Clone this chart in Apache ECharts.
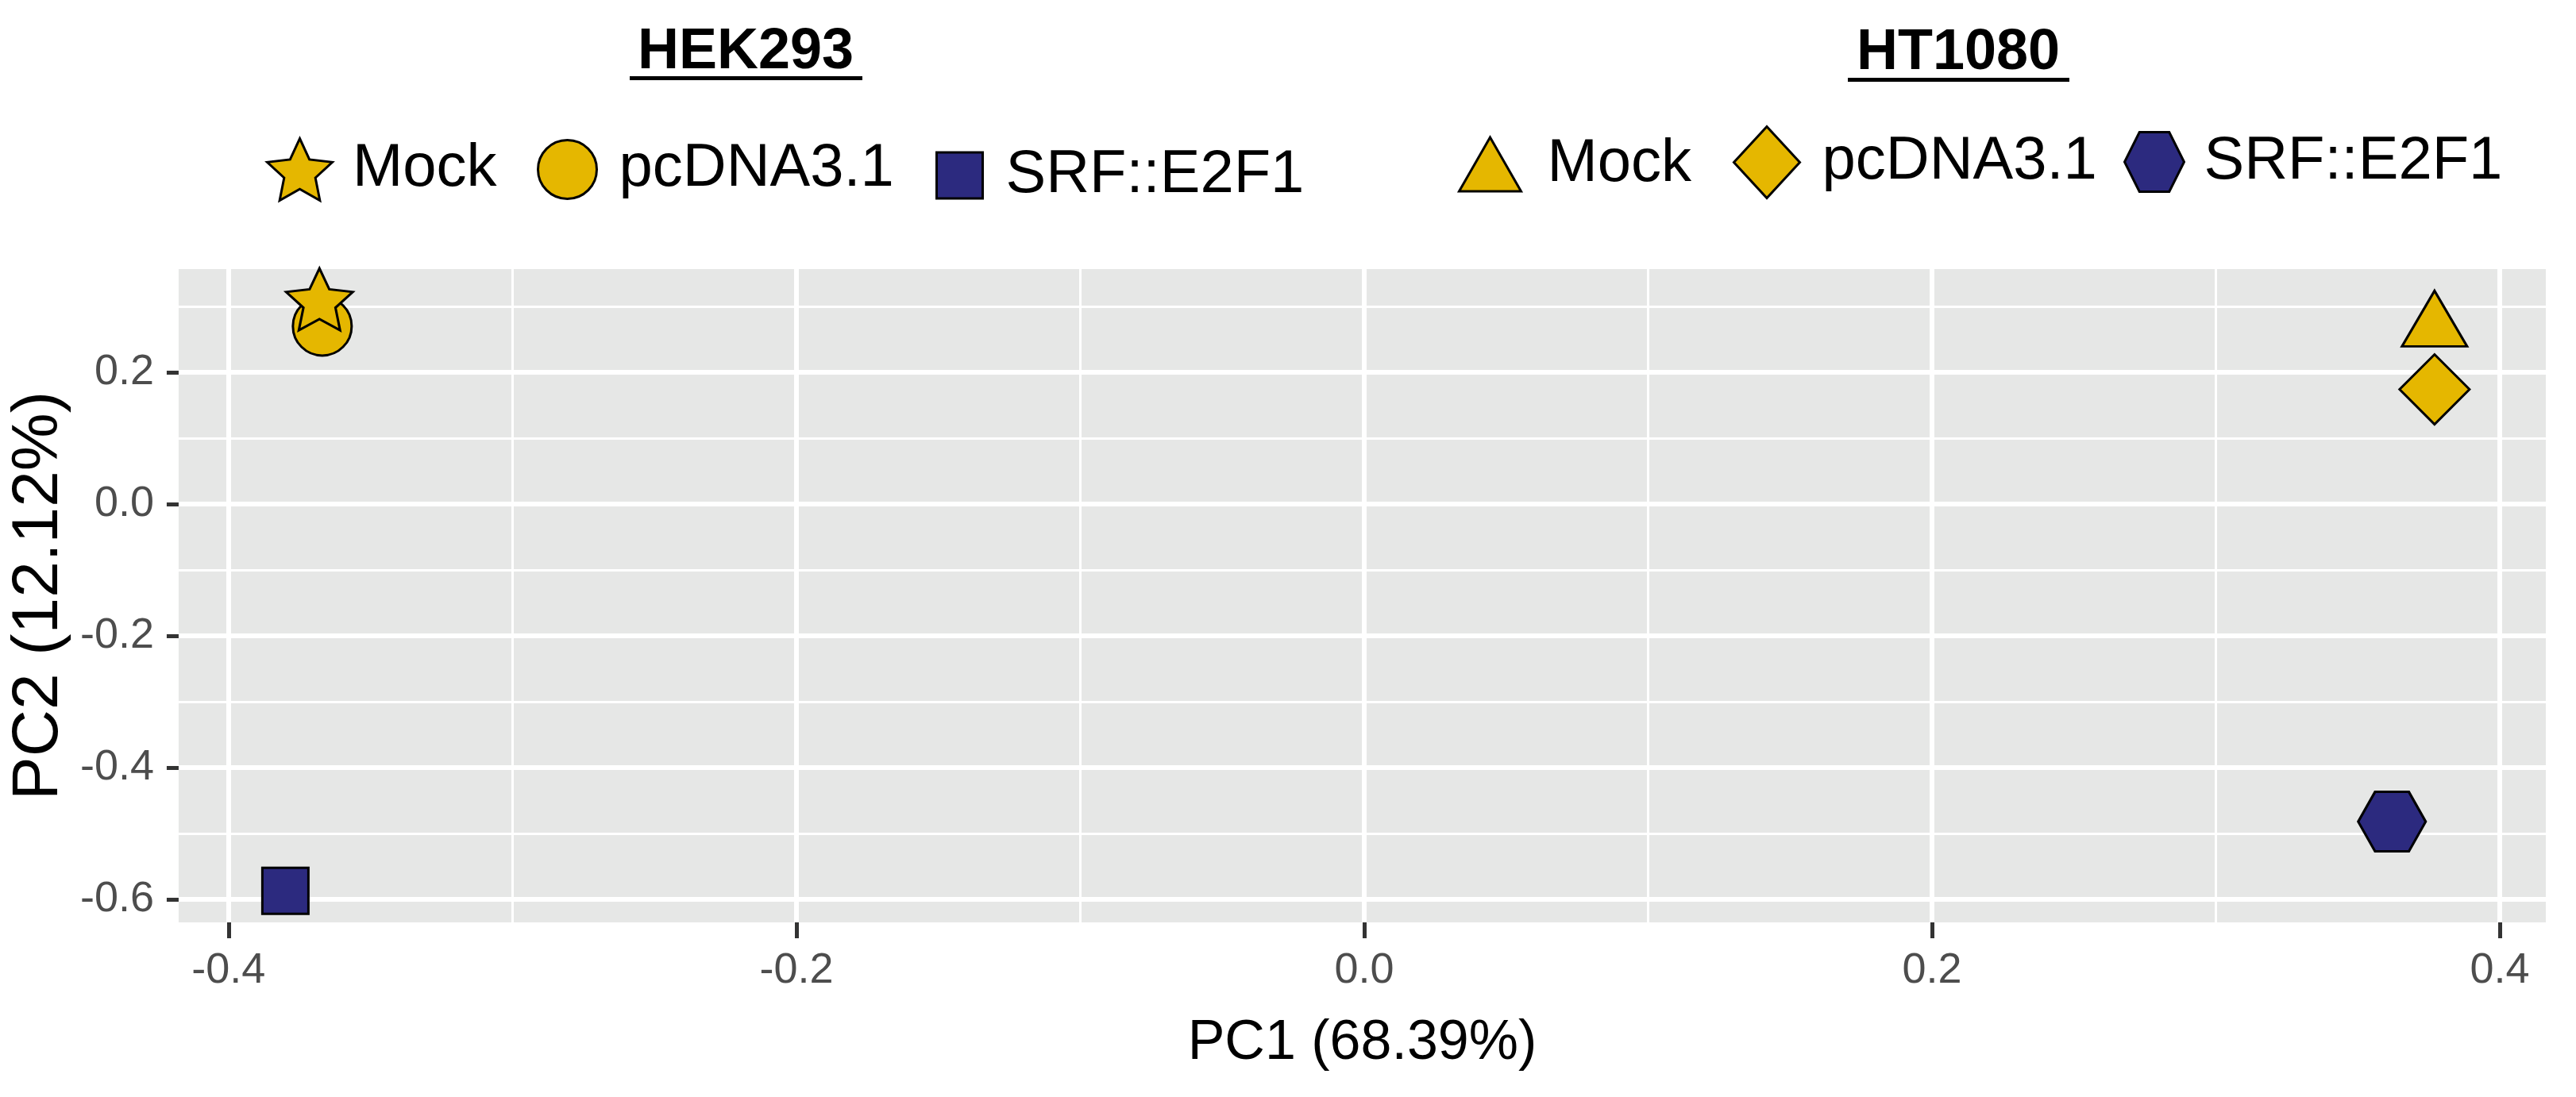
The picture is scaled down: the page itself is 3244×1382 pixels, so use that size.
<!DOCTYPE html>
<html><head><meta charset="utf-8">
<script src="https://cdn.jsdelivr.net/npm/echarts@6/dist/echarts.min.js"></script>
<style>html,body{margin:0;padding:0;background:#fff}#c{width:3244px;height:1382px}</style>
</head><body><div id="c"></div>
<script>
// ---- data ----
const groups = ['HEK293', 'HT1080'];
const treatments = ['Mock', 'pcDNA3.1', 'SRF::E2F1'];
const hek293PC1 = [-0.368, -0.367, -0.380];
const hek293PC2 = [0.306, 0.270, -0.587];
const ht1080PC1 = [0.377, 0.377, 0.362];
const ht1080PC2 = [0.267, 0.174, -0.482];
const xTicks = [-0.4, -0.2, 0.0, 0.2, 0.4];
const yTicks = [-0.6, -0.4, -0.2, 0.0, 0.2];
const xAxisTitle = 'PC1 (68.39%)';
const yAxisTitle = 'PC2 (12.12%)';

// ---- styling ----
const GOLD = '#E5B700', NAVY = '#2C2A7F';
const STAR = 'path://M50,0 L64.11,30.58 L97.55,34.55 L72.83,57.42 L79.39,90.45 L50,74 L20.61,90.45 L27.17,57.42 L2.45,34.55 L35.89,30.58 Z';
const HEX = 'path://M25,0 L75,0 L100,50 L75,100 L25,100 L0,50 Z';
const pc1 = [hek293PC1, ht1080PC1];
const pc2 = [hek293PC2, ht1080PC2];
const markers = [
  {g:0, t:0, symbol:STAR, size:[84,78], offset:[0,'-5%'], color:GOLD, z:5, lg:{left:335, top:173, w:83, h:78, pad:20}},
  {g:0, t:1, symbol:'circle', size:74, offset:[0,0], color:GOLD, z:4, lg:{left:676, top:175, w:74, h:74, pad:23}},
  {g:0, t:2, symbol:'rect', size:58, offset:[0,0], color:NAVY, z:4, lg:{left:1178, top:183, w:58, h:58, pad:24}},
  {g:1, t:0, symbol:'triangle', size:[82,70], offset:[0,'-17%'], color:GOLD, z:5, lg:{left:1836, top:169, w:78, h:68, pad:28}},
  {g:1, t:1, symbol:'diamond', size:[88,88], offset:[0,0], color:GOLD, z:4, lg:{left:2182, top:158, w:83, h:90, pad:23}},
  {g:1, t:2, symbol:HEX, size:[85,75], offset:[0,0], color:NAVY, z:4, lg:{left:2674, top:165, w:83, h:75, pad:16}}
];
const sName = m => groups[m.g] + ' ' + treatments[m.t];
const SANS = '"Liberation Sans", Arial, sans-serif';

const chart = echarts.init(document.getElementById('c'), null, {renderer:'canvas'});
chart.setOption({
  animation: false,
  backgroundColor: '#fff',
  grid: {left:218, top:339, width:2988, height:823, show:true, backgroundColor:'#E6E7E6', borderWidth:0},
  xAxis: {
    type:'value', min:-0.4176, max:0.4162, splitNumber:4,
    axisLine:{show:false, onZero:false},
    axisTick:{show:true, length:20, lineStyle:{color:'#333', width:5}, customValues: xTicks},
    axisLabel:{customValues: xTicks, margin:34, fontFamily:SANS, fontSize:54, color:'#4D4D4D', formatter: v => v.toFixed(1)},
    splitLine:{show:true, lineStyle:{color:'#fff', width:6}},
    minorTick:{show:false, splitNumber:2},
    minorSplitLine:{show:true, lineStyle:{color:'#fff', width:3}},
    name: xAxisTitle, nameLocation:'middle', nameGap:118,
    nameTextStyle:{fontFamily:SANS, fontSize:70, color:'#000'}
  },
  yAxis: {
    type:'value', min:-0.635, max:0.3566, splitNumber:5,
    axisLine:{show:false, onZero:false},
    axisTick:{show:true, length:15, lineStyle:{color:'#333', width:5}, customValues: yTicks},
    axisLabel:{customValues: yTicks, margin:31, fontFamily:SANS, fontSize:54, color:'#4D4D4D', formatter: v => v.toFixed(1)},
    splitLine:{show:true, lineStyle:{color:'#fff', width:6}},
    minorTick:{show:false, splitNumber:2},
    minorSplitLine:{show:true, lineStyle:{color:'#fff', width:3}},
    name: yAxisTitle, nameLocation:'middle', nameGap:116, nameRotate:90,
    nameTextStyle:{fontFamily:SANS, fontSize:82, color:'#000'}
  },
  legend: markers.map(m => ({
    data:[{name:sName(m), icon:m.symbol}],
    left:m.lg.left, top:m.lg.top, padding:0,
    itemWidth:m.lg.w, itemHeight:m.lg.h,
    itemStyle:{borderColor:'#000', borderWidth:3},
    formatter: n => n.slice(n.indexOf(' ') + 1),
    textStyle:{fontFamily:SANS, fontSize:76, color:'#000', lineHeight:40, padding:[0,0,0,m.lg.pad]},
    selectedMode:false
  })),
  graphic: [
    {type:'text', x:939, y:66, style:{text:groups[0], fill:'#000', font:'bold 72px "Liberation Sans", Arial, sans-serif', textAlign:'center', textVerticalAlign:'middle'}},
    {type:'rect', shape:{x:793, y:96, width:293, height:5}, style:{fill:'#000'}},
    {type:'text', x:2466, y:67, style:{text:groups[1], fill:'#000', font:'bold 72px "Liberation Sans", Arial, sans-serif', textAlign:'center', textVerticalAlign:'middle'}},
    {type:'rect', shape:{x:2327, y:98, width:279, height:5}, style:{fill:'#000'}}
  ],
  series: markers.map(m => ({
    type:'scatter', name:sName(m),
    data:[[pc1[m.g][m.t], pc2[m.g][m.t]]],
    symbol:m.symbol, symbolSize:m.size, symbolOffset:m.offset, z:m.z,
    itemStyle:{color:m.color, borderColor:'#000', borderWidth:3, opacity:1},
    emphasis:{disabled:true}
  }))
});
</script></body></html>
